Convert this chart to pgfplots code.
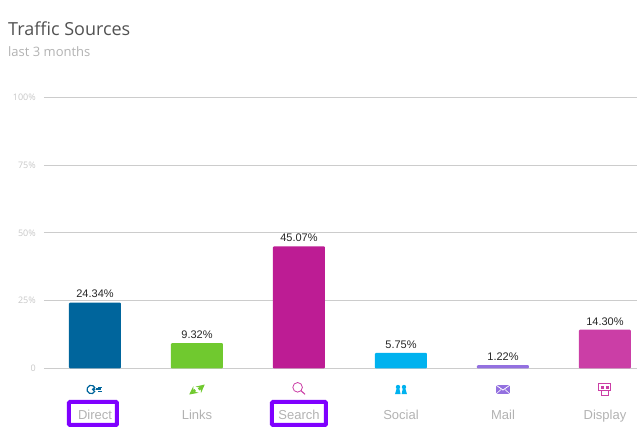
\documentclass[border=0pt]{standalone}
\usepackage{fontspec}
\setmainfont{Liberation Sans}
\newfontfamily\opensans{Open Sans}
\usepackage{pgfplots}
\pgfplotsset{compat=1.18}
\definecolor{cdirect}{HTML}{00659C}
\definecolor{clinks}{HTML}{70C92F}
\definecolor{csearch}{HTML}{BD1C94}
\definecolor{csocial}{HTML}{00B2EF}
\definecolor{cmail}{HTML}{9370E0}
\definecolor{cdisplay}{HTML}{CB3EA6}
\definecolor{gridc}{HTML}{CCCCCC}
\definecolor{boxc}{HTML}{7F00FF}
% small icons above the category names, 1pt = 1px
\newcommand\icondirect{\tikz[x=1pt,y=1pt,cdirect]{\draw[line width=1.2pt] (4,0) arc (20:340:4.2);\fill (2.5,-1.2) circle (1.9);\fill (5,-2) rectangle (10,0);\fill (7,-3.5) rectangle (11,-2.5);\fill (7,0.5) rectangle (11,1.5);}}
\newcommand\iconlinks{\tikz[x=1pt,y=1pt,clinks]{\draw[line width=2.6pt,-stealth] (0,0) -- (6,5);\draw[line width=2.6pt,-stealth] (-3.5,-0.5) -- (-9.5,-5);}}
\newcommand\iconsearch{\tikz[x=1pt,y=1pt,cdisplay]{\draw[line width=.8pt] (0,0) circle (4.8);\draw[line width=1.1pt] (3.2,-3.2) -- (7.4,-7);}}
\newcommand\iconsocial{\tikz[x=1pt,y=1pt,csocial]{\fill (-3,2.6) circle (2.2);\fill (3,2.6) circle (2.2);\fill (-6,-4.5) -- (-4.4,1) -- (-1.6,1) -- (-.4,-4.5) -- cycle;\fill (.6,-4.5) -- (1.8,1) -- (4.4,1) -- (6,-4.5) -- cycle;}}
\newcommand\iconmail{\tikz[x=1pt,y=1pt]{\fill[cmail] (-7,-4.5) rectangle (7,4.5);\draw[white,line width=.8pt] (-7,4.5) -- (0,-.5) -- (7,4.5);\draw[white,line width=.6pt] (-7,-4.5) -- (-2,0);\draw[white,line width=.6pt] (7,-4.5) -- (2,0);}}
\newcommand\icondisplay{\tikz[x=1pt,y=1pt,cdisplay]{\draw[line width=1pt] (-6,-1.5) rectangle (6,5.5);\fill (-4,.5) rectangle (-1,3.5);\fill (1,.5) rectangle (4,3.5);\draw[line width=1pt] (-3.5,-6) rectangle (3.5,-1.5);}}
\begin{document}
\begin{tikzpicture}
\path[use as bounding box] (-44pt,-61.5pt) rectangle (593pt,368.5pt);
\begin{axis}[
  at={(0pt,0pt)},anchor=south west,
  scale only axis,width=593pt,height=271pt,
  xmin=-0.5,xmax=5.314,ymin=0,ymax=100,
  axis line style={draw=none},
  tick style={draw=none},
  ymajorgrids,
  grid style={gridc,line width=1pt},
  ytick={0,25,50,75,100},
  yticklabels={0,25\%,50\%,75\%,100\%},
  yticklabel style={text=black!22,font=\opensans\fontsize{9}{9}\selectfont,inner sep=0pt,xshift=-8pt},
  xtick={0,1,2,3,4,5},
  xticklabels={Direct,Links,Search,Social,Mail,Display},
  xticklabel style={anchor=base,inner sep=0pt,yshift=-46.5pt,text=black!30,font=\fontsize{13}{13}\selectfont},
  /pgf/number format/assume math mode=true,
  ybar,
  bar width=52pt,
  clip=false,
  nodes near coords={\pgfmathprintnumber[fixed,fixed zerofill,precision=2,assume math mode=true]{\pgfplotspointmeta}\%},
  every node near coord/.append style={font=\fontsize{11}{11}\selectfont,text=black!85,yshift=1pt},
]
\addplot[fill=cdirect,draw=none,bar shift=0pt,rounded corners=1pt] coordinates {(0,24.34)};
\addplot[fill=clinks,draw=none,bar shift=0pt,rounded corners=1pt] coordinates {(1,9.32)};
\addplot[fill=csearch,draw=none,bar shift=0pt,rounded corners=1pt] coordinates {(2,45.07)};
\addplot[fill=csocial,draw=none,bar shift=0pt,rounded corners=1pt] coordinates {(3,5.75)};
\addplot[fill=cmail,draw=none,bar shift=0pt,rounded corners=1pt] coordinates {(4,1.22)};
\addplot[fill=cdisplay,draw=none,bar shift=0pt,rounded corners=1pt] coordinates {(5,14.30)};
% icons
\node[inner sep=0pt] at (axis cs:0,0) [yshift=-21pt,xshift=-1pt] {\icondirect};
\node[inner sep=0pt] at (axis cs:1,0) [yshift=-21pt] {\iconlinks};
\node[inner sep=0pt] at (axis cs:2,0) [yshift=-20pt] {\iconsearch};
\node[inner sep=0pt] at (axis cs:3,0) [yshift=-21pt] {\iconsocial};
\node[inner sep=0pt] at (axis cs:4,0) [yshift=-21pt] {\iconmail};
\node[inner sep=0pt] at (axis cs:5,0) [yshift=-21pt] {\icondisplay};
% highlight boxes
\node[draw=boxc,line width=4pt,rounded corners=1pt,minimum width=48pt,minimum height=23pt,inner sep=0pt] at (axis cs:0,0) [xshift=-2pt,yshift=-45pt] {};
\node[draw=boxc,line width=4pt,rounded corners=1pt,minimum width=54pt,minimum height=23pt,inner sep=0pt] at (axis cs:2,0) [yshift=-45pt] {};
\end{axis}
\node[anchor=base west,inner sep=0pt,text=black!68,font=\opensans\fontsize{18}{18}\selectfont] at (-36pt,332.5pt) {Traffic Sources};
\node[anchor=base west,inner sep=0pt,text=black!30,font=\opensans\fontsize{13}{13}\selectfont] at (-36pt,311.5pt) {last 3 months};
\end{tikzpicture}
\end{document}
